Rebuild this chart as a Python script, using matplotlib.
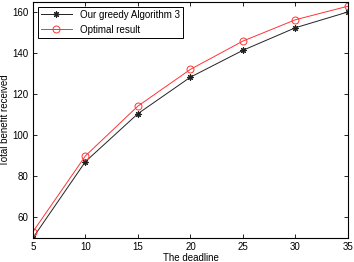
import numpy as np
import matplotlib
matplotlib.use("Agg")
import matplotlib.pyplot as plt

deadline = [5, 10, 15, 20, 25, 30, 35]
greedy = [50.0, 87.2, 110.6, 128.4, 141.5, 152.5, 160.2]
optimal = [53.0, 90.0, 114.3, 132.2, 146.0, 156.4, 163.0]

plt.rc("font", family="Liberation Sans", size=7)

fig = plt.figure(figsize=(3.54, 2.62), dpi=100)
ax = fig.add_axes([0.093, 0.092, 0.890, 0.900])

ax.plot(deadline, greedy, "-", marker=(8, 2, 0), color="#222222", lw=0.7, ms=4.5,
        mew=0.8, label="Our greedy Algorithm 3")
ax.plot(deadline, optimal, "-o", color="#ff3333", lw=0.7, ms=5,
        mfc="none", mew=0.7, label="Optimal result")

ax.set_xlim(5, 35)
ax.set_ylim(50, 165)
ax.set_xticks([5, 10, 15, 20, 25, 30, 35])
ax.set_yticks([60, 80, 100, 120, 140, 160])
ax.tick_params(direction="in", top=True, right=True, length=3, width=0.6, pad=3)
for s in ax.spines.values():
    s.set_linewidth(0.8)

ax.set_xlabel("The deadline", labelpad=1)
ax.set_ylabel("Total benefit received")
ax.yaxis.set_label_coords(-0.072, 0.5)

leg = ax.legend(loc="upper left", fancybox=False, edgecolor="black",
                borderaxespad=0.5, handlelength=3.2, framealpha=1,
                borderpad=0.3)
leg.get_frame().set_linewidth(0.7)

fig.savefig("out.png", dpi=100)
